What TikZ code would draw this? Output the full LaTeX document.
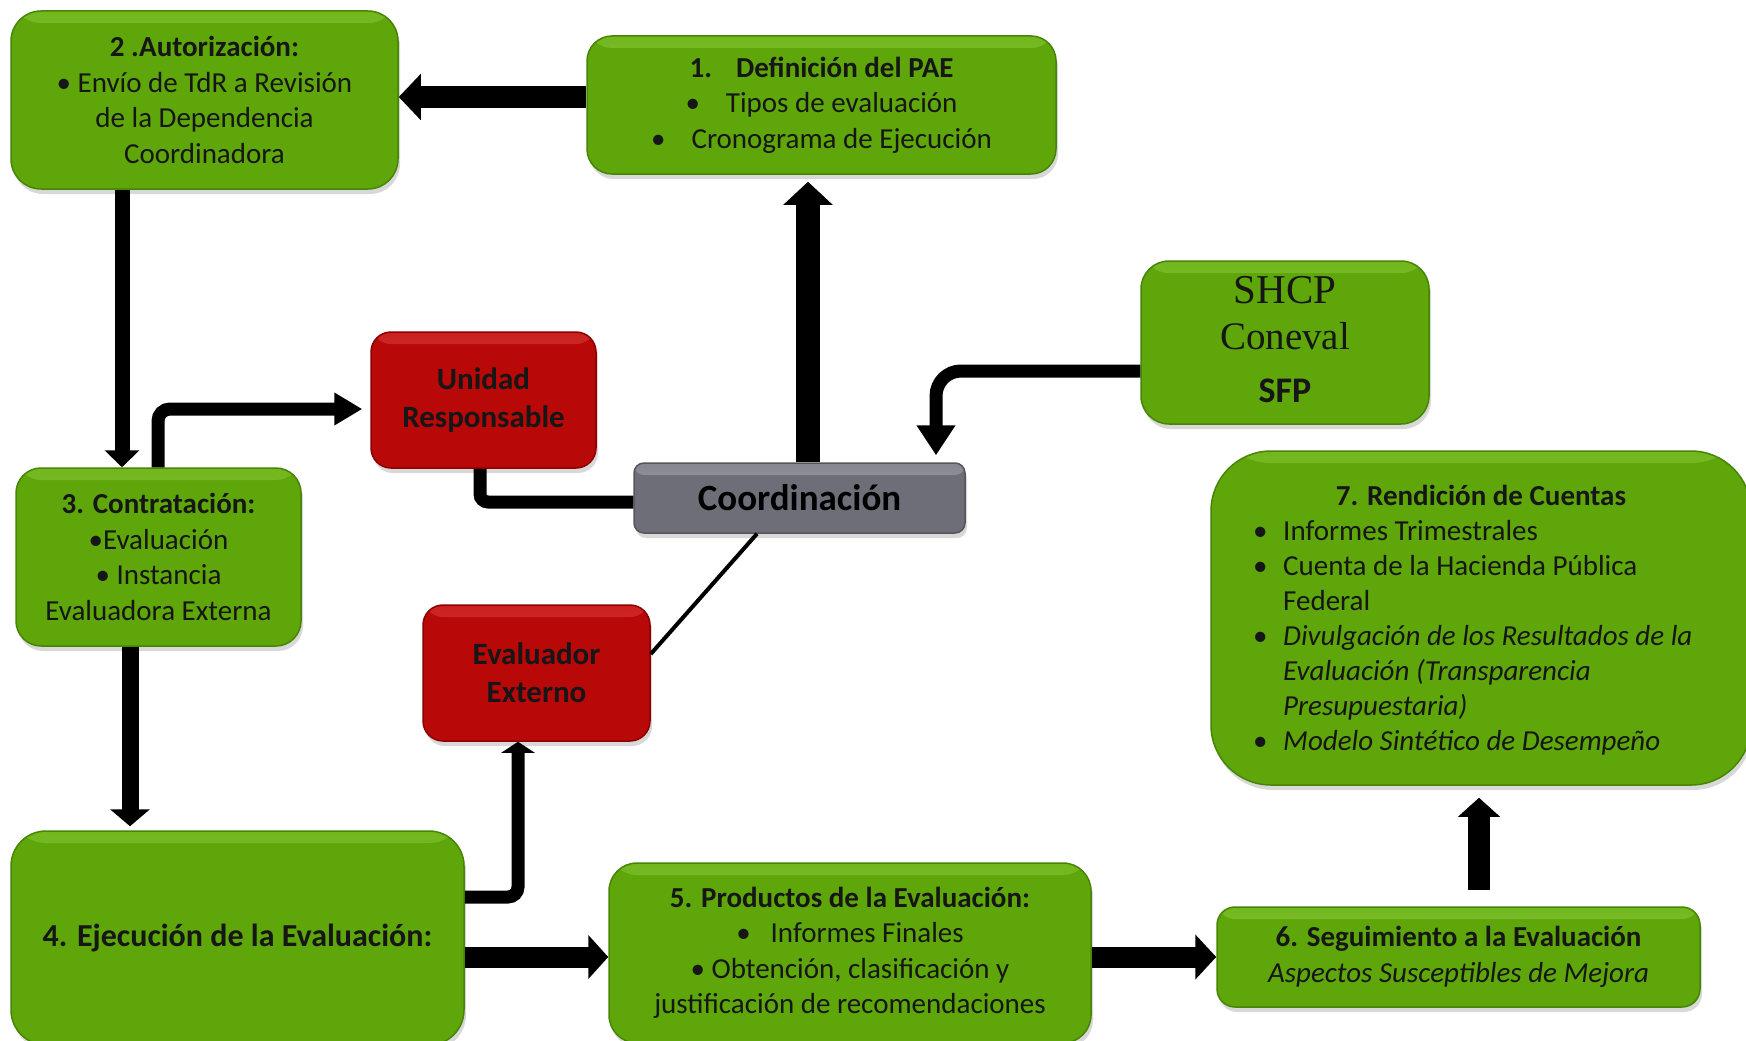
\documentclass[tikz,border=0pt]{standalone}
\usepackage{fontspec}
\setmainfont{Carlito}
\newfontfamily\shcpserif{Liberation Serif}
\usetikzlibrary{arrows.meta,shadows}
\definecolor{gfill}{RGB}{94,166,10}
\definecolor{gedge}{RGB}{72,132,6}
\definecolor{glight}{RGB}{138,206,52}
\definecolor{rfill}{RGB}{184,8,8}
\definecolor{redge}{RGB}{140,0,0}
\definecolor{rlight}{RGB}{228,60,60}
\definecolor{cfill}{RGB}{110,110,120}
\definecolor{cedge}{RGB}{85,85,92}
\definecolor{clight}{RGB}{165,165,172}
\definecolor{txt}{RGB}{22,22,22}
\begin{document}
\begin{tikzpicture}[x=1pt,y=-1pt,
  box/.style={rounded corners=#1, line width=1.5pt, inner sep=0pt, align=center, text=txt,
    font=\fontsize{29pt}{35.5pt}\selectfont,
    drop shadow={shadow xshift=2pt, shadow yshift=-5pt, opacity=0.3}},
  box/.default=28,
  hl/.style={path picture={\shade[top color=#1, bottom color=#1!0!white, opacity=0.45]
      (path picture bounding box.north west) rectangle ([yshift=-12pt]path picture bounding box.north east);}},
  gbox/.style={box=#1, fill=gfill, draw=gedge, hl=glight},
  gbox/.default=28,
  rbox/.style={box=20, fill=rfill, draw=redge, font=\bfseries\fontsize{31pt}{38pt}\selectfont},
  cbox/.style={box=10, fill=cfill, draw=cedge, font=\bfseries\fontsize{37pt}{44pt}\selectfont, text=black},
  conn/.style={line width=#1, draw=black},
  plain/.style={text=txt, inner sep=0pt},
]
\fill[white] (0,0) rectangle (1746,1041);
\useasboundingbox (0,0) rectangle (1746,1041);
\clip (0,0) rectangle (1746,1041);

% boxes
\node[gbox=30, minimum width=387, minimum height=178] (b2) at (204.5,100)
  {\textbf{2 .Autorización:}\\ • Envío de TdR a Revisión\\ de la Dependencia\\ Coordinadora};
\node[gbox=25, minimum width=469, minimum height=138] (b1) at (821.5,105)
  {\textbf{1.\hspace{24pt}Definición del PAE}\\ •\hspace{26pt}Tipos de evaluación\\ •\hspace{26pt}Cronograma de Ejecución};
\node[gbox=28, minimum width=288, minimum height=163] (shcp) at (1285,342.5) {};
\node[plain, anchor=base, font=\shcpserif\fontsize{41pt}{46pt}\selectfont] (shcpa) at (1285,303) {SHCP};
\node[plain, anchor=base, font=\shcpserif\fontsize{39pt}{46pt}\selectfont] (shcpb) at (1285,349) {Coneval};
\node[plain, anchor=base, font=\bfseries\fontsize{36pt}{44pt}\selectfont] (shcpc) at (1285,402) {SFP};

\node[gbox=60, minimum width=540, minimum height=334] (b7) at (1481,618) {};
\node[plain, anchor=base, font=\bfseries\fontsize{29pt}{35.1pt}\selectfont] (b7t) at (1481,505) {7. Rendición de Cuentas};
\node[plain, anchor=base west, align=left, font=\fontsize{29pt}{35.1pt}\selectfont] (b7l) at (1253,540)
  {\begin{tabular}[t]{@{}p{30pt}@{}l@{}}
   • & Informes Trimestrales\\
   • & Cuenta de la Hacienda Pública\\
     & Federal\\
   • & \textit{Divulgación de los Resultados de la}\\
     & \textit{Evaluación (Transparencia}\\
     & \textit{Presupuestaria)}\\
   • & \textit{Modelo Sintético de Desempeño}
   \end{tabular}};

\node[rbox, minimum width=225, minimum height=136, hl=rlight] (ur) at (483.5,400) {Unidad\\Responsable};
\node[cbox, minimum width=331, minimum height=70, hl=clight] (co) at (799.5,498) {Coordinación};
\node[gbox=25, minimum width=285, minimum height=178] (b3) at (158.5,557)
  {\textbf{3. Contratación:}\\ •Evaluación\\ • Instancia\\ Evaluadora Externa};
\node[rbox, minimum width=227, minimum height=136, hl=rlight] (ev) at (536.5,673) {Evaluador\\Externo};
\node[gbox=35, minimum width=453, minimum height=214, font=\bfseries\fontsize{32pt}{38pt}\selectfont] (b4) at (237.5,938)
  {4. Ejecución de la Evaluación:};
\node[gbox=28, minimum width=482, minimum height=180] (b5) at (850,953)
  {\textbf{5. Productos de la Evaluación:}\\ •\hspace{20pt}Informes Finales\\ • Obtención, clasificación y\\ justificación de recomendaciones};
\node[gbox=18, minimum width=483, minimum height=100] (b6) at (1458.5,957)
  {\textbf{6. Seguimiento a la Evaluación}\\ \textit{Aspectos Susceptibles de Mejora}};

% connectors
\draw[conn=21pt, -{Triangle[width=45pt,length=22pt]}] (b1.west |- 0,97) -- (b2.east |- 0,97);
\draw[conn=15pt, -{Triangle[width=34pt,length=17pt]}] (b2.south -| 122,0) -- (b3.north -| 122,0);
\draw[conn=13pt, rounded corners=12pt, -{Triangle[width=31pt,length=28pt]}, shorten >=8pt]
  (b3.north -| 158,0) |- (ur.west |- 0,409);
\draw[conn=13pt, rounded corners=8pt] (ur.south -| 480,0) |- (co.west |- 0,502);
\draw[conn=24pt, -{Triangle[width=48pt,length=23pt]}, shorten >=7pt] (co.north -| 808,0) -- (b1.south -| 808,0);
\draw[conn=13pt, rounded corners=25pt, -{Triangle[width=37pt,length=30pt]}, shorten >=7pt]
  (shcp.west |- 0,371) -| (co.north -| 936,0);
\draw[line width=4pt] (co.south -| 757,0) -- (ev.east |- 0,654);
\draw[conn=17pt, -{Triangle[width=39pt,length=17pt]}, shorten >=4pt] (b3.south -| 130,0) -- (b4.north -| 130,0);
\draw[conn=13pt, rounded corners=10pt, -{Triangle[width=33pt,length=11pt]}]
  (b4.east |- 0,897) -| (ev.south -| 518,0);
\draw[conn=21pt, -{Triangle[width=43pt,length=20pt]}] (b4.east |- 0,957) -- (b5.west |- 0,957);
\draw[conn=21pt, -{Triangle[width=44pt,length=21pt]}] (b5.east |- 0,957) -- (b6.west |- 0,957);
\draw[conn=22pt, -{Triangle[width=41pt,length=19pt]}, shorten <=16pt, shorten >=12pt]
  (b6.north -| 1479,0) -- (b7.south -| 1479,0);
\end{tikzpicture}
\end{document}
